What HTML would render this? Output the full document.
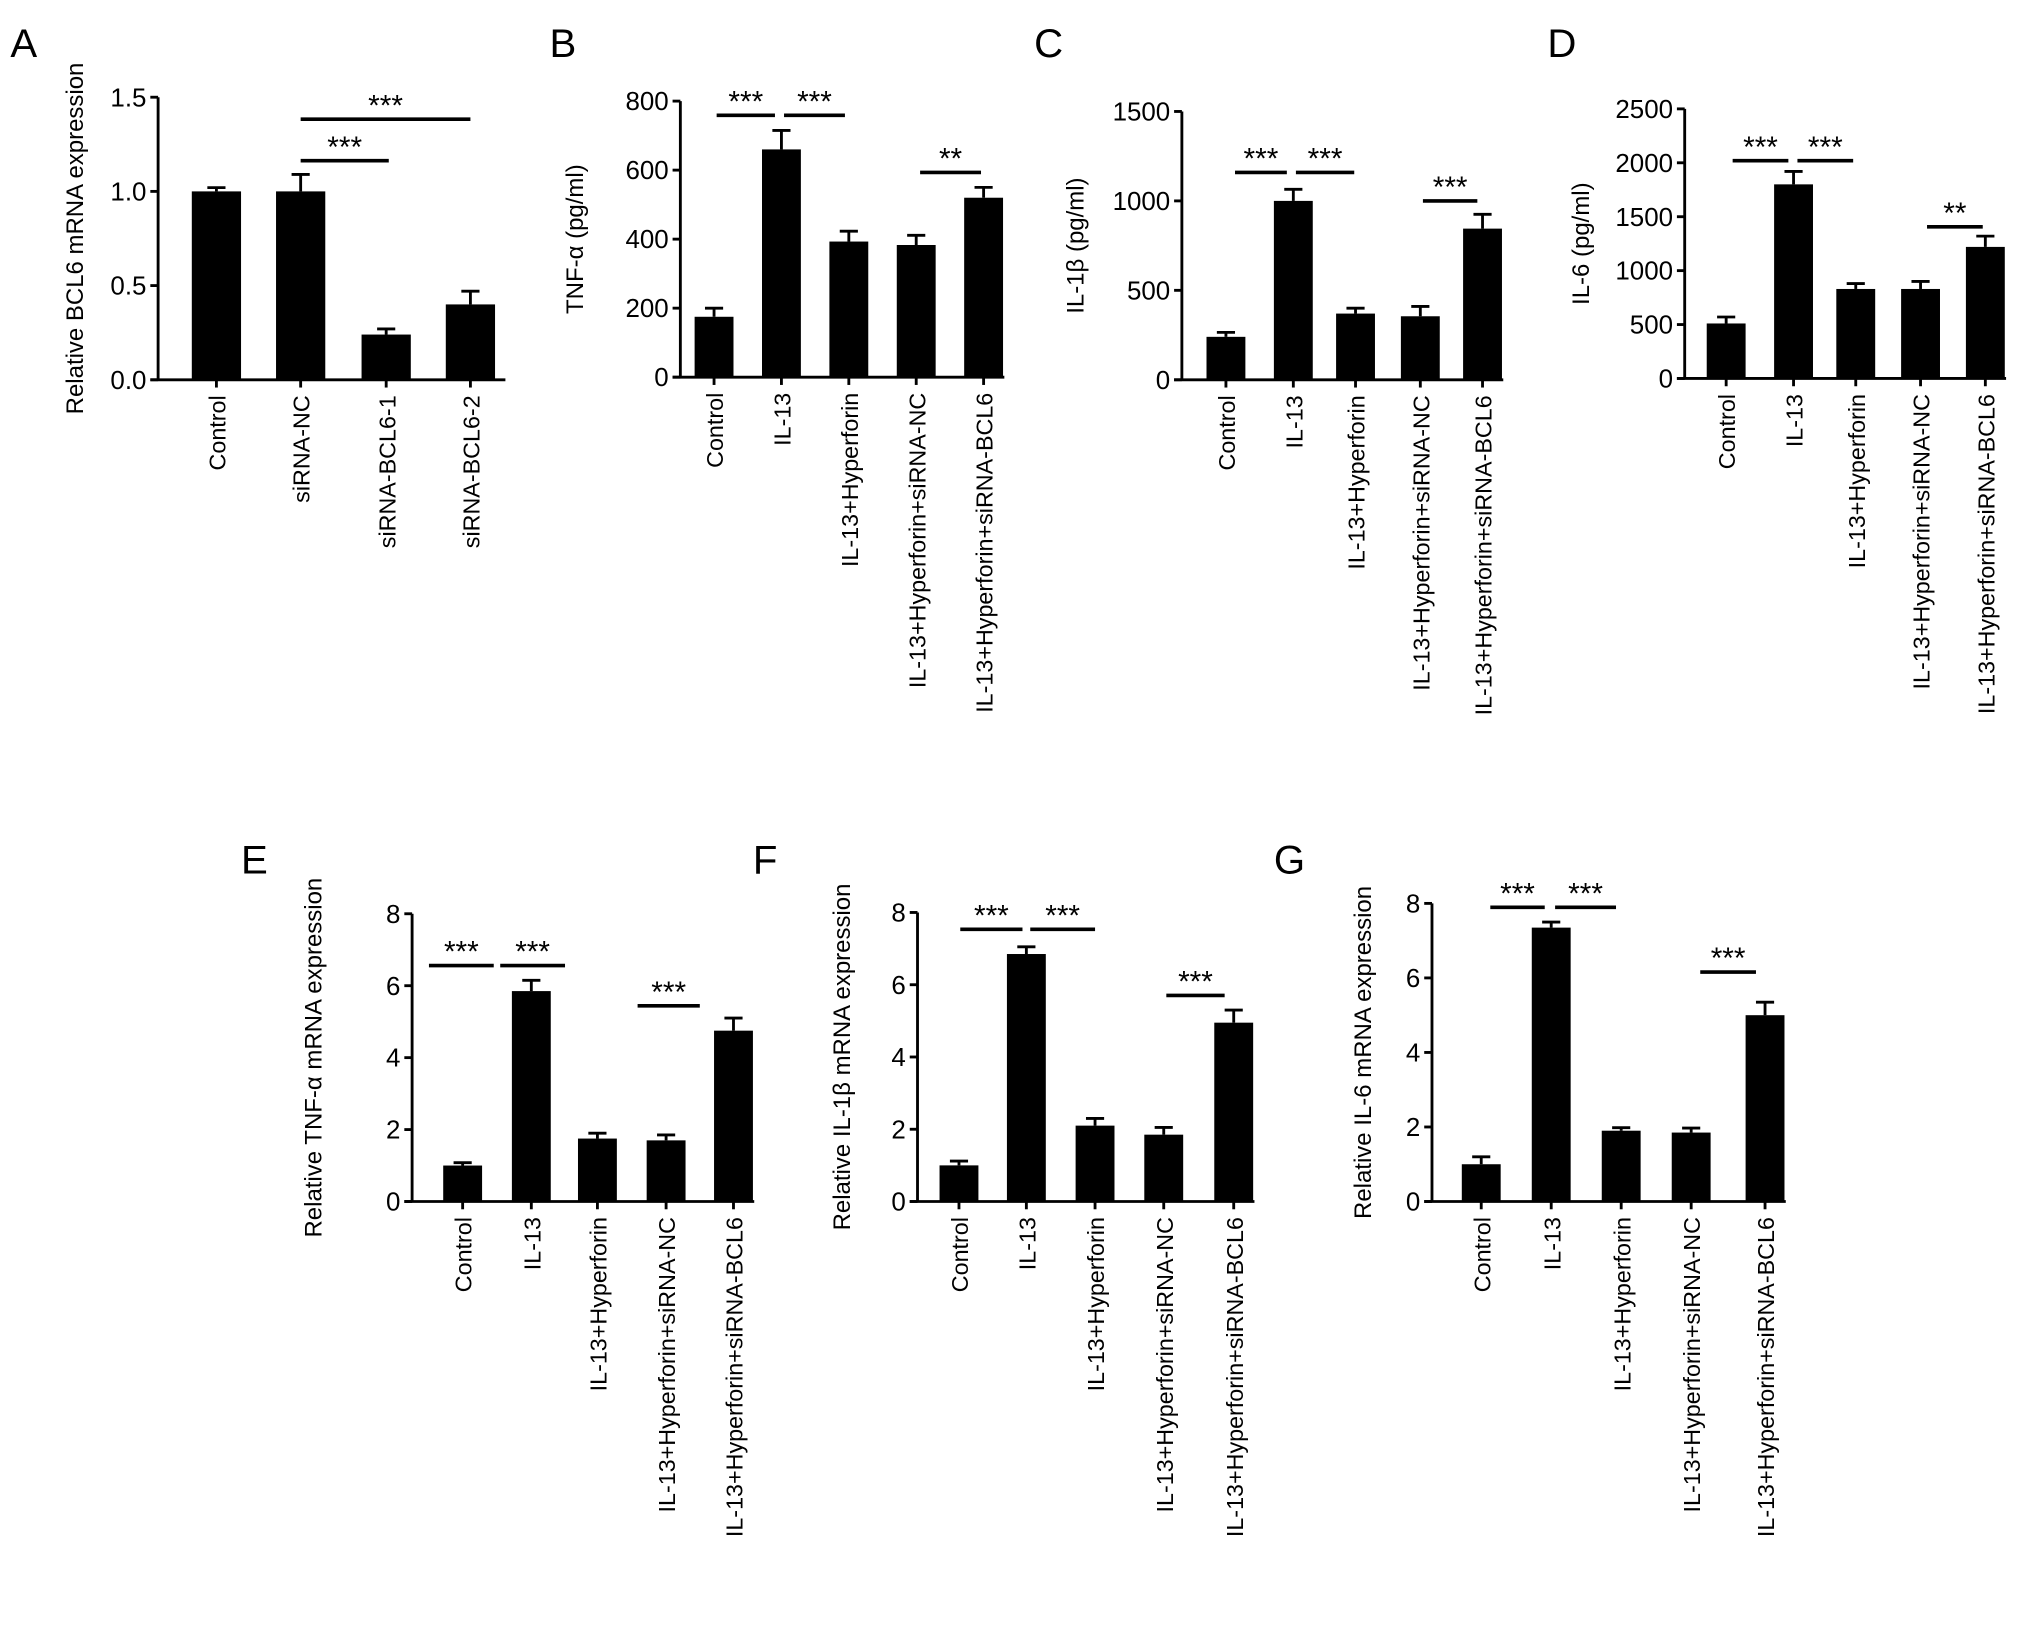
<!DOCTYPE html>
<html><head><meta charset="utf-8"><style>
html,body{margin:0;padding:0;background:#fff;}
svg{display:block;font-family:"Liberation Sans",Arial,sans-serif;}
</style></head><body>
<svg id="fig" width="2032" height="1637" viewBox="0 0 1568 1263" preserveAspectRatio="none" xmlns="http://www.w3.org/2000/svg"></svg>
<script>
const catsA = ["Control","siRNA-NC","siRNA-BCL6-1","siRNA-BCL6-2"];
const catsB = ["Control","IL-13","IL-13+Hyperforin","IL-13+Hyperforin+siRNA-NC","IL-13+Hyperforin+siRNA-BCL6"];
const valsA = [1.0,1.0,0.24,0.40];  const errA = [0.02,0.09,0.03,0.07];
const valsB = [175,660,393,383,520]; const errB = [25,55,30,28,30];
const valsC = [240,1000,370,355,845]; const errC = [25,65,30,55,80];
const valsD = [510,1800,830,830,1220]; const errD = [60,120,50,70,100];
const valsE = [1.0,5.85,1.75,1.7,4.75]; const errE = [0.08,0.3,0.15,0.15,0.35];
const valsF = [1.0,6.85,2.1,1.85,4.95]; const errF = [0.12,0.2,0.2,0.2,0.35];
const valsG = [1.0,7.35,1.9,1.85,5.0]; const errG = [0.2,0.15,0.08,0.12,0.35];
const ticksA = ["0.0","0.5","1.0","1.5"];
const ticksB = ["0","200","400","600","800"];
const ticksC = ["0","500","1000","1500"];
const ticksD = ["0","500","1000","1500","2000","2500"];
const ticksE = ["0","2","4","6","8"];

const NS="http://www.w3.org/2000/svg";
const svg=document.getElementById('fig');
function mk(t,a,p){const e=document.createElementNS(NS,t);for(const k in a)e.setAttribute(k,a[k]);(p||svg).appendChild(e);return e;}

const panels=[
 {id:"a",letter:"A",lx:8,ly:44,cats:catsA,vals:valsA,errs:errA,ticks:ticksA,max:1.5,ax:122,top:75,base:293,cx:[167,232,298,363],xe:390,bw:38,title:"Relative BCL6 mRNA expression",tx:64,
  sig:[[232,300,124,"***"],[232,363,92,"***"]]},
 {id:"b",letter:"B",lx:424,ly:44,cats:catsB,vals:valsB,errs:errB,ticks:ticksB,max:800,ax:525,top:78,base:291,cx:[551,603,655,707,759],xe:775,bw:30,title:"TNF-α (pg/ml)",tx:450,
  sig:[[553,598,89,"***"],[605,652,89,"***"],[710,757,133,"**"]]},
 {id:"c",letter:"C",lx:798,ly:44,cats:catsB,vals:valsC,errs:errC,ticks:ticksC,max:1500,ax:912,top:86,base:293,cx:[946,998,1046,1096,1144],xe:1160,bw:30,title:"IL-1β (pg/ml)",tx:836,
  sig:[[953,993,133,"***"],[1000,1045,133,"***"],[1098,1140,155,"***"]]},
 {id:"d",letter:"D",lx:1194,ly:44,cats:catsB,vals:valsD,errs:errD,ticks:ticksD,max:2500,ax:1300,top:84,base:292,cx:[1332,1384,1432,1482,1532],xe:1548,bw:30,title:"IL-6 (pg/ml)",tx:1226,
  sig:[[1337,1380,124,"***"],[1387,1430,124,"***"],[1487,1530,175,"**"]]},
 {id:"e",letter:"E",lx:186,ly:674,cats:catsB,vals:valsE,errs:errE,ticks:ticksE,max:8,ax:318,top:705,base:927,cx:[357,410,461,514,566],xe:582,bw:30,title:"Relative TNF-α mRNA expression",tx:248,
  sig:[[331,381,745,"***"],[386,436,745,"***"],[492,540,776,"***"]]},
 {id:"f",letter:"F",lx:581,ly:674,cats:catsB,vals:valsF,errs:errF,ticks:ticksE,max:8,ax:708,top:704,base:927,cx:[740,792,845,898,952],xe:968,bw:30,title:"Relative IL-1β mRNA expression",tx:656,
  sig:[[741,789,717,"***"],[795,845,717,"***"],[900,945,768,"***"]]},
 {id:"g",letter:"G",lx:983,ly:674,cats:catsB,vals:valsG,errs:errG,ticks:ticksE,max:8,ax:1105,top:697,base:927,cx:[1143,1197,1251,1305,1362],xe:1378,bw:30,title:"Relative IL-6 mRNA expression",tx:1058,
  sig:[[1150,1192,700,"***"],[1200,1247,700,"***"],[1312,1355,750,"***"]]}
];

panels.forEach(P=>{
  const g=mk('g',{});
  
  
  const y=v=>P.base-(v/P.max)*(P.base-P.top);
  const L=mk('text',{x:P.lx,y:P.ly,'font-size':31},g); L.textContent=P.letter;
   
  const ya=mk('line',{x1:P.ax,y1:P.top,x2:P.ax,y2:P.base,stroke:'#000','stroke-width':2.2},g);
   
  const xa=mk('line',{x1:P.ax-6,y1:P.base,x2:P.xe,y2:P.base,stroke:'#000','stroke-width':2.2},g);
   
  P.ticks.forEach(t=>{
    const yy=y(parseFloat(t));
    mk('line',{x1:P.ax-6,y1:yy,x2:P.ax,y2:yy,stroke:'#000','stroke-width':2.2},g);
    const tl=mk('text',{x:P.ax-9,y:yy+7,'font-size':20,'text-anchor':'end'},g); tl.textContent=t;
     
  });
  const yt=mk('text',{x:P.tx,y:(P.top+P.base)/2,'font-size':18.5,'text-anchor':'middle',transform:`rotate(-90 ${P.tx} ${(P.top+P.base)/2})`},g);
  yt.textContent=P.title;  
  P.cats.forEach((c,i)=>{
    const cx=P.cx[i], v=P.vals[i], e=P.errs[i];
    mk('line',{x1:cx,y1:y(v),x2:cx,y2:y(v+e),stroke:'#000','stroke-width':2.2},g);
    mk('line',{x1:cx-7,y1:y(v+e),x2:cx+7,y2:y(v+e),stroke:'#000','stroke-width':2.2},g);
    const b=mk('rect',{x:cx-P.bw/2,y:y(v),width:P.bw,height:P.base-y(v),fill:'#000'},g);
    
    
    mk('line',{x1:cx,y1:P.base,x2:cx,y2:P.base+6,stroke:'#000','stroke-width':2.2},g);
    const lx=cx+7, ly=P.base+12;
    const t=mk('text',{x:lx,y:ly,'font-size':18,'text-anchor':'end',transform:`rotate(-90 ${lx} ${ly})`},g);
    t.textContent=c;  
  });
  P.sig.forEach(s=>{
    const l=mk('line',{x1:s[0],y1:s[2],x2:s[1],y2:s[2],stroke:'#000','stroke-width':2.8},g);
     
    const t=mk('text',{x:(s[0]+s[1])/2,y:s[2]-3,'font-size':23,'text-anchor':'middle'},g);
    t.textContent=s[3];  
  });
});
</script>
</body></html>
